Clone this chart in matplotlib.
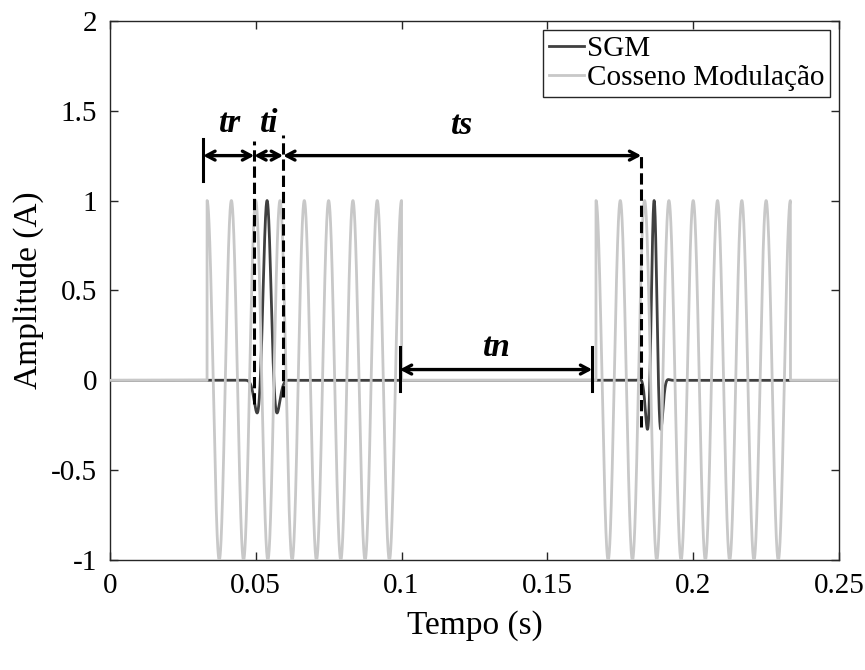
import numpy as np
import matplotlib
matplotlib.use('Agg')
import matplotlib.pyplot as plt

plt.rcParams['font.family'] = ['Liberation Serif', 'DejaVu Serif']
plt.rcParams['axes.unicode_minus'] = False

# --- values ---
t_end = 0.25
carrier_hz = 120                      # cosine modulation frequency
burst_start = [1/30, 1/6]             # cosine bursts (s)
burst_end = [0.1, 0.2333]
pulse_center = [0.0539, 0.1866]       # SGM pulses (s)
pulse_hz = [107, 170]
pulse_width = [0.0030, 0.00225]

# annotation marks (s, A)
tr_bar = 0.0320
ti_left = 0.0495
ti_right = 0.0594
ts_right = 0.1822
tn_left = 0.0994
tn_right = 0.1654
arrow_y = 1.25
tn_y = 0.06

t = np.linspace(0, t_end, 20001)
cosseno = np.zeros_like(t)
for a, b in zip(burst_start, burst_end):
    m = (t >= a) & (t <= b)
    cosseno[m] = np.cos(2 * np.pi * carrier_hz * (t[m] - a))

sgm = np.zeros_like(t)
for c, f, s in zip(pulse_center, pulse_hz, pulse_width):
    m = np.abs(t - c) < 4 * s
    sgm[m] += np.exp(-((t[m] - c) / s) ** 2) * np.cos(2 * np.pi * f * (t[m] - c))

fig = plt.figure(figsize=(8.65, 6.7), dpi=100)
ax = fig.add_axes([0.127, 0.164, 0.843, 0.805])

ax.plot(t, sgm, color='#404040', linewidth=2, label='SGM', zorder=2)
ax.plot(t, cosseno, color='#c8c8c8', linewidth=2, label='Cosseno Modulação', zorder=3)

# annotations
k = dict(color='black', linewidth=2.2, zorder=5)
ax.plot([tr_bar, tr_bar], [1.106, 1.345], **k)
ax.plot([ti_left, ti_left], [-0.13, 1.334], linestyle='--', **k)
ax.plot([ti_right, ti_right], [-0.09, 1.362], linestyle='--', **k)
ax.plot([ts_right, ts_right], [-0.26, 1.25], linestyle='--', **k)
ax.plot([tn_left, tn_left], [-0.06, 0.186], **k)
ax.plot([tn_right, tn_right], [-0.06, 0.186], **k)

def darrow(x0, x1, y):
    ax.annotate('', xy=(x1, y), xytext=(x0, y),
                arrowprops=dict(arrowstyle='<->,head_length=0.6,head_width=0.32',
                                color='black', lw=2.4, shrinkA=0, shrinkB=0),
                zorder=6)

darrow(tr_bar, ti_left, arrow_y)
darrow(ti_left, ti_right, arrow_y)
darrow(ti_right, ts_right, arrow_y)
darrow(tn_left, tn_right, tn_y)

lab = dict(fontsize=24, fontweight='bold', fontstyle='italic', ha='center', va='center')
ax.text(0.0412, 1.43, 'tr', **lab)
ax.text(0.0545, 1.43, 'ti', **lab)
ax.text(0.1206, 1.42, 'ts', **lab)
ax.text(0.1326, 0.18, 'tn', **lab)

ax.set_xlim(0, t_end)
ax.set_ylim(-1, 2)
ax.set_xticks([0, 0.05, 0.1, 0.15, 0.2, 0.25])
ax.set_xticklabels(['0', '0.05', '0.1', '0.15', '0.2', '0.25'])
ax.set_yticks([-1, -0.5, 0, 0.5, 1, 1.5, 2])
ax.set_yticklabels(['-1', '-0.5', '0', '0.5', '1', '1.5', '2'])
ax.tick_params(direction='in', top=True, right=True, labelsize=21,
               length=6, width=1, color='#262626', pad=9)
for sp in ax.spines.values():
    sp.set_color('#262626')
    sp.set_linewidth(1)
ax.set_xlabel('Tempo (s)', fontsize=24, labelpad=8)
ax.set_ylabel('Amplitude (A)', fontsize=24, labelpad=5)

leg = ax.legend(loc='upper right', fontsize=21, frameon=True, fancybox=False,
                edgecolor='#262626', handlelength=1.2, handletextpad=0.1,
                borderpad=0.2, labelspacing=0.1, borderaxespad=0.3)
leg.get_frame().set_linewidth(1)
leg.get_frame().set_alpha(1)

fig.savefig('out.png', dpi=100)
